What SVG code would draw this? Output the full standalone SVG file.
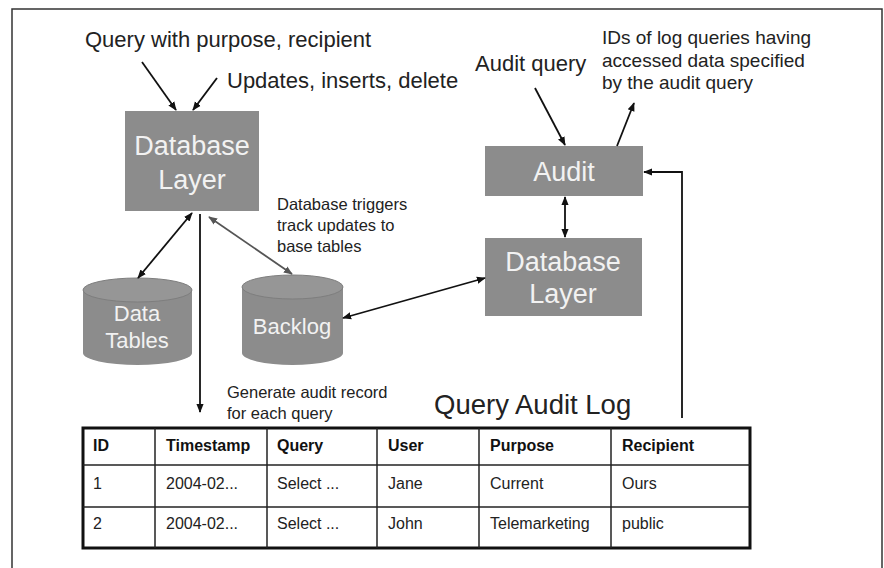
<svg xmlns="http://www.w3.org/2000/svg" width="884" height="568" viewBox="0 0 884 568">
  <defs>
    <marker id="ah" viewBox="0 0 10 10" refX="9" refY="5" markerWidth="9" markerHeight="9" markerUnits="userSpaceOnUse" orient="auto-start-reverse">
      <path d="M0,1 L10,5 L0,9 z" fill="#111"/>
    </marker>
    <marker id="ahg" viewBox="0 0 10 10" refX="9" refY="5" markerWidth="9" markerHeight="9" markerUnits="userSpaceOnUse" orient="auto-start-reverse">
      <path d="M0,1 L10,5 L0,9 z" fill="#555"/>
    </marker>
    <style>
      text { font-family: "Liberation Sans", Arial, sans-serif; }
      .box { fill: #8c8c8c; }
      .boxtxt { fill: #f2f2f2; text-anchor: middle; font-size: 27px; }
      .cyl { fill: #8c8c8c; }
      .cyltop { fill: #969696; stroke: #7e7e7e; stroke-width: 1; }
      .cyltxt { fill: #f2f2f2; text-anchor: middle; font-size: 22px; }
      .lbl { fill: #222; font-size: 22px; }
      .note { fill: #222; font-size: 16.5px; }
      .note2 { fill: #222; font-size: 19px; }
      .edge { stroke: #111; stroke-width: 1.8; fill: none; }
      .edgeg { stroke: #555; stroke-width: 1.8; fill: none; }
      .th { font-size: 16px; font-weight: bold; fill: #111; }
      .td { font-size: 16px; fill: #222; }
      .grid { stroke: #222; stroke-width: 1.5; fill: none; }
    </style>
  </defs>

  <rect x="0" y="0" width="884" height="568" fill="#fff"/>
  <!-- page frame -->
  <rect x="12" y="9" width="870" height="580" fill="none" stroke="#333" stroke-width="1.5"/>

  <!-- free labels -->
  <text class="lbl" x="85" y="47">Query with purpose, recipient</text>
  <text class="lbl" x="227" y="88">Updates, inserts, delete</text>
  <text class="lbl" x="475" y="71">Audit query</text>
  <text class="note2" x="602" y="44">IDs of log queries having</text>
  <text class="note2" x="602" y="67">accessed data specified</text>
  <text class="note2" x="602" y="89">by the audit query</text>
  <text class="note" x="277" y="210">Database triggers</text>
  <text class="note" x="277" y="231">track updates to</text>
  <text class="note" x="277" y="252">base tables</text>
  <text class="note" x="227" y="398">Generate audit record</text>
  <text class="note" x="227" y="419">for each query</text>
  <text x="434" y="414" font-size="27.5" fill="#222">Query Audit Log</text>

  <!-- nodes -->
  <g id="db-layer-left">
    <rect class="box" x="125" y="111" width="134" height="100"/>
    <text class="boxtxt" x="192" y="155">Database</text>
    <text class="boxtxt" x="192" y="189">Layer</text>
  </g>

  <g id="audit">
    <rect class="box" x="485" y="146" width="158" height="50"/>
    <text class="boxtxt" x="564" y="181">Audit</text>
  </g>

  <g id="db-layer-right">
    <rect class="box" x="485" y="238" width="157" height="78"/>
    <text class="boxtxt" x="563" y="271">Database</text>
    <text class="boxtxt" x="563" y="303">Layer</text>
  </g>

  <g id="data-tables">
    <path class="cyl" d="M83,290 L83,353 A54.5,12 0 0 0 192,353 L192,290 z"/>
    <ellipse class="cyltop" cx="137.5" cy="290" rx="54.5" ry="12"/>
    <text class="cyltxt" x="137" y="321">Data</text>
    <text class="cyltxt" x="137" y="348">Tables</text>
  </g>

  <g id="backlog">
    <path class="cyl" d="M242,287 L242,353 A50.5,12 0 0 0 343,353 L343,287 z"/>
    <ellipse class="cyltop" cx="292.5" cy="287" rx="50.5" ry="12"/>
    <text class="cyltxt" x="292" y="334">Backlog</text>
  </g>

  <g id="query-audit-log">
    <rect x="83" y="428" width="667" height="120" fill="#fff" stroke="#111" stroke-width="3"/>
    <line class="grid" x1="83" y1="465" x2="750" y2="465"/>
    <line class="grid" x1="83" y1="507" x2="750" y2="507"/>
    <line class="grid" x1="155" y1="428" x2="155" y2="548"/>
    <line class="grid" x1="267" y1="428" x2="267" y2="548"/>
    <line class="grid" x1="377" y1="428" x2="377" y2="548"/>
    <line class="grid" x1="479" y1="428" x2="479" y2="548"/>
    <line class="grid" x1="611" y1="428" x2="611" y2="548"/>

    <text class="th" x="93" y="451">ID</text>
    <text class="th" x="166" y="451">Timestamp</text>
    <text class="th" x="277" y="451">Query</text>
    <text class="th" x="388" y="451">User</text>
    <text class="th" x="490" y="451">Purpose</text>
    <text class="th" x="622" y="451">Recipient</text>

    <text class="td" x="93" y="489">1</text>
    <text class="td" x="166" y="489">2004-02...</text>
    <text class="td" x="277" y="489">Select ...</text>
    <text class="td" x="388" y="489">Jane</text>
    <text class="td" x="490" y="489">Current</text>
    <text class="td" x="622" y="489">Ours</text>

    <text class="td" x="93" y="529">2</text>
    <text class="td" x="166" y="529">2004-02...</text>
    <text class="td" x="277" y="529">Select ...</text>
    <text class="td" x="388" y="529">John</text>
    <text class="td" x="490" y="529">Telemarketing</text>
    <text class="td" x="622" y="529">public</text>
  </g>

  <!-- connectors -->
  <g id="connectors">
    <line class="edge" x1="142" y1="62" x2="176" y2="110" marker-end="url(#ah)"/>
    <line class="edge" x1="217" y1="78" x2="193" y2="110" marker-end="url(#ah)"/>
    <line class="edge" x1="192" y1="213" x2="138" y2="278" marker-start="url(#ah)" marker-end="url(#ah)"/>
    <line class="edge" x1="200" y1="214" x2="200" y2="412" marker-end="url(#ah)"/>
    <line class="edgeg" x1="209" y1="217" x2="292" y2="274" marker-start="url(#ahg)" marker-end="url(#ahg)"/>
    <line class="edge" x1="343" y1="318" x2="485" y2="278" marker-start="url(#ah)" marker-end="url(#ah)"/>
    <line class="edge" x1="535" y1="88" x2="565" y2="145" marker-end="url(#ah)"/>
    <line class="edge" x1="617" y1="146" x2="634" y2="103" marker-end="url(#ah)"/>
    <line class="edge" x1="565" y1="197" x2="565" y2="237" marker-start="url(#ah)" marker-end="url(#ah)"/>
    <polyline class="edge" points="682,418 682,172 644,172" marker-end="url(#ah)"/>
  </g>
</svg>
